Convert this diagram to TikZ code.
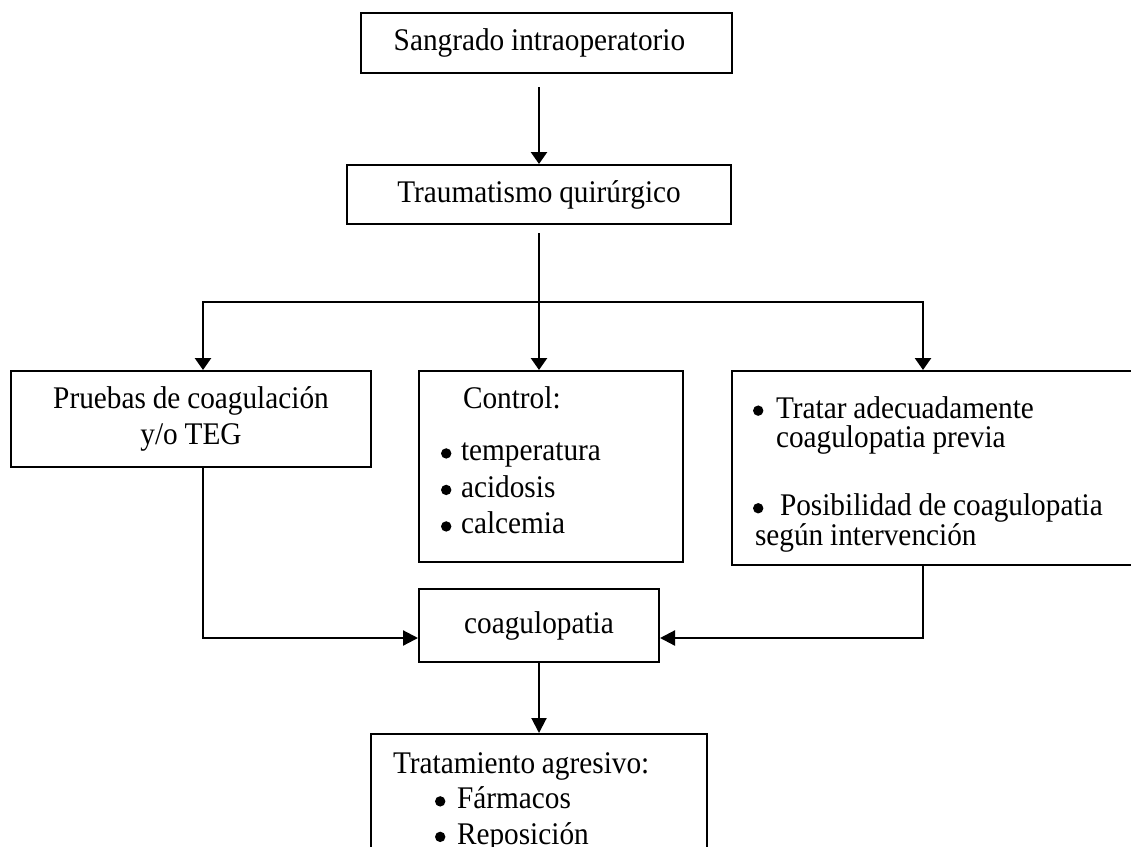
\documentclass[tikz,border=0pt]{standalone}
\usepackage{fontspec}
\setmainfont{Liberation Serif}[FakeStretch=0.93, WordSpace=0.93]
\usetikzlibrary{arrows.meta}

\newcommand{\blt}[1]{\makebox[#1][l]{\hspace*{-2pt}\tikz[baseline=0pt, x=1pt, y=1pt]\fill (5,7.5) circle [radius=5.2];}}

\begin{document}
\begin{tikzpicture}[x=1pt,y=-1pt,
	box/.style={draw, line width=2pt, inner sep=0pt, font=\fontsize{31.5}{36.5}\selectfont},
	arr/.style={line width=2.6pt, -{Triangle[length=12pt,width=16pt]}},
	link/.style={line width=2.2pt, -{Triangle[length=15pt,width=15pt]}}]
				\useasboundingbox (0,0) rectangle (1131,846);
				\clip (0,0) rectangle (1131,846);

				% Top boxes
				\node[box, minimum width=371pt, minimum height=60pt] (sangrado) at (546.5,43) {\hspace*{-14pt}Sangrado intraoperatorio\rule[-3pt]{0pt}{3pt}};
				\node[box, minimum width=384pt, minimum height=59pt] (trauma) at (539,194.5) {Traumatismo quirúrgico};

				% Middle row
				\node[box, minimum width=360pt, minimum height=96pt, align=center] (pruebas) at (191,419) {Pruebas de coagulación\\y/o TEG};
				\node[box, minimum width=264pt, minimum height=191pt, text width=216pt, align=flush left] (control) at (551,466.5)
					{\hspace*{20pt}Control:\\[15.5pt] \blt{18pt}temperatura\\ \blt{18pt}acidosis\\ \blt{18pt}calcemia\rule[-12pt]{0pt}{12pt}};
				\node[box, minimum width=408pt, minimum height=194pt, text width=362pt, align=flush left, font=\fontsize{31.5}{29.3}\selectfont] (previa) at (936,468)
					{\rule{0pt}{34pt}\blt{21pt}Tratar adecuadamente\\ \hspace*{21pt}coagulopatia previa\\[39pt] \blt{25pt}Posibilidad de coagulopatia\\ según intervención};

				% Bottom boxes
				\node[box, minimum width=240pt, minimum height=73pt] (coag) at (539,625.5) {coagulopatia};
				\node[box, anchor=north, text width=292pt, inner xsep=22pt, inner ysep=18.5pt, align=flush left, font=\fontsize{31.5}{35.5}\selectfont] (tratam) at (539,733)
					{Tratamiento agresivo:\\ \hspace*{44pt}\blt{20pt}Fármacos\\ \hspace*{44pt}\blt{20pt}Reposición};

				% Branch points
				\coordinate (split) at (539,302);
				\coordinate (busL) at (203,302);
				\coordinate (busR) at (923,302);

				% Arrows
				\draw[arr, shorten <=13pt] (sangrado.south -| trauma.north) -- (trauma.north);
				\draw[arr, shorten <=8pt] (trauma.south) -- (trauma.south |- control.north);
				\draw[arr] (split) -| (busL |- pruebas.north);
				\draw[arr] (split) -| (busR |- previa.north);
				\draw[link] (busL |- pruebas.south) |- ([yshift=-12.5pt]coag.west);
				\draw[link] (busR |- previa.south) |- ([yshift=-12.5pt]coag.east);
				\draw[link, line width=2pt] (coag.south) -- (tratam.north);
			\end{tikzpicture}
\end{document}
